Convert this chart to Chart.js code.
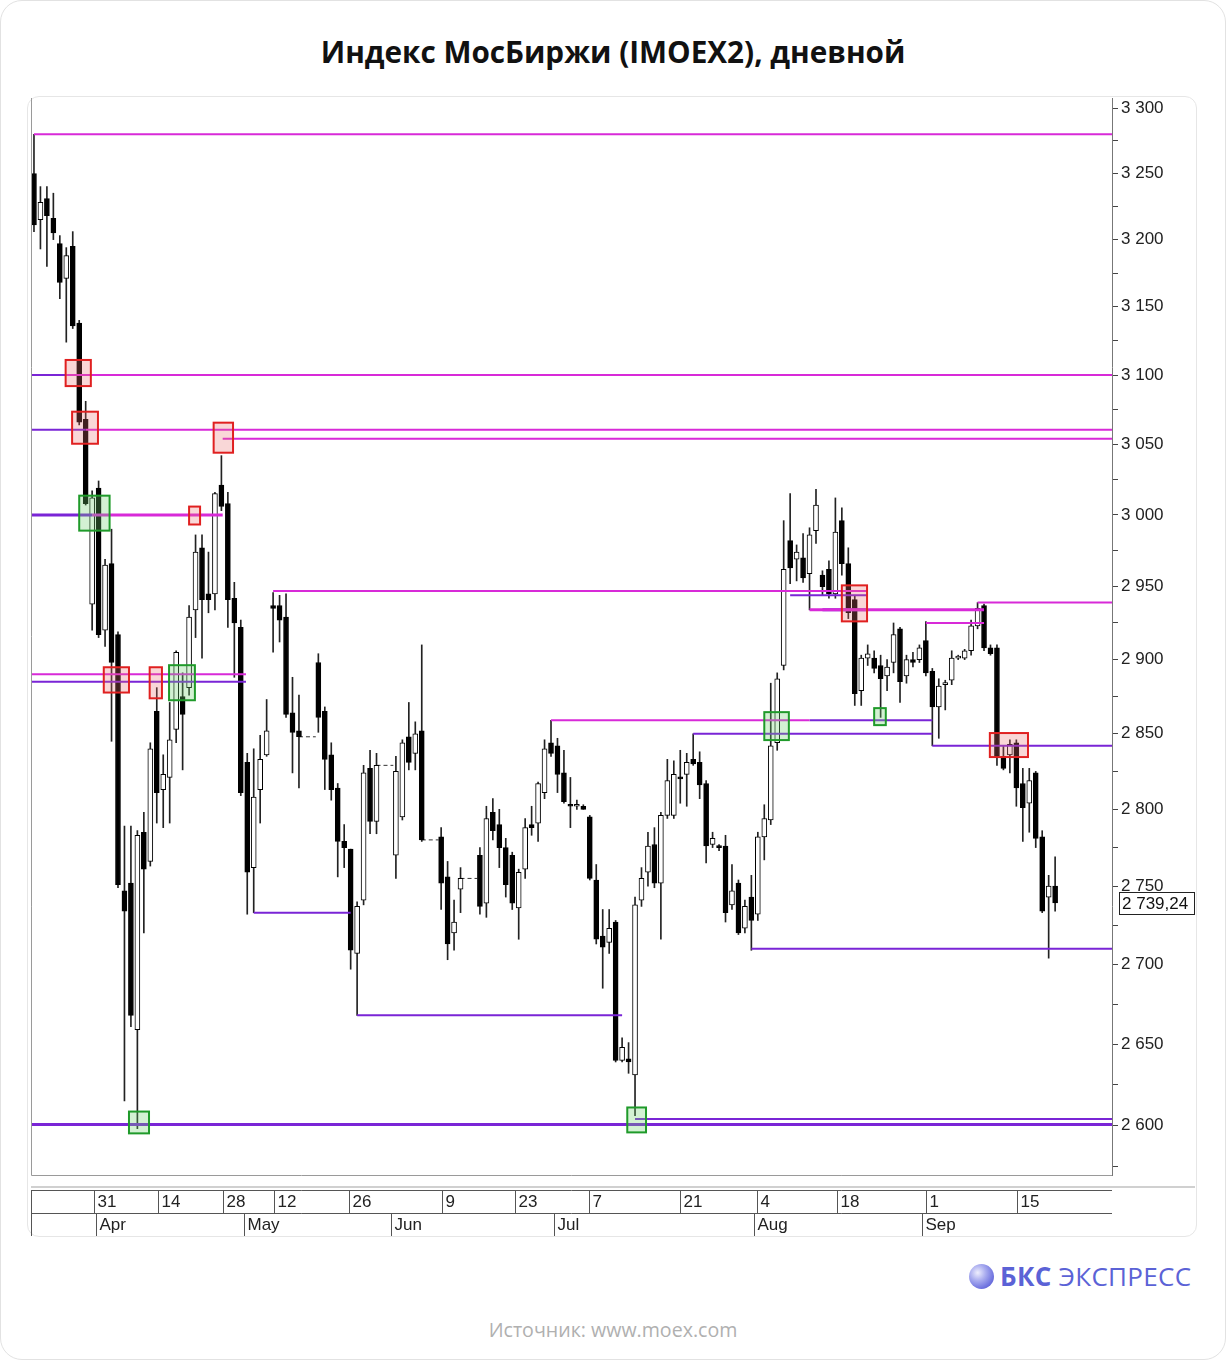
<!DOCTYPE html>
<html lang="ru">
<head>
<meta charset="utf-8">
<title>Индекс МосБиржи (IMOEX2), дневной</title>
<script src="https://cdn.jsdelivr.net/npm/chart.js@4.4.1/dist/chart.umd.min.js"></script>
<style>
  html, body { margin: 0; padding: 0; background: #fff; }
  #card {
    position: relative; width: 1224px; height: 1358px;
    border: 1px solid #e2e2e2; border-radius: 22px; overflow: hidden;
    font-family: "Open Sans", "Noto Sans", sans-serif;
  }
  h1 {
    position: absolute; left: 0; right: 0; top: 31px; margin: 0;
    text-align: center; font-size: 29.7px; line-height: 40px; font-weight: 700; color: #111;
  }
  #frame {
    position: absolute; left: 26px; top: 95px; width: 1168px; height: 1139px;
    border: 1px solid #e6e6e6; border-radius: 12px;
  }
  #chart { position: absolute; left: 27px; top: 96px; }
  #logo {
    position: absolute; left: 968px; top: 1261px; height: 28px;
    display: flex; align-items: center; color: #5b62d6; font-size: 26px; letter-spacing: 0.3px;
  }
  #logo .ball {
    width: 25px; height: 25px; border-radius: 50%; margin-right: 6px;
    background: radial-gradient(circle at 35% 35%, #eeeefd 0%, #a9acef 35%, #6e72df 70%, #4b4fc4 100%);
  }
  #logo b { font-weight: 700; margin-right: 7px; }
  #source {
    position: absolute; left: 0; right: 0; top: 1315px; text-align: center;
    font-size: 19.6px; color: #b0b0b0;
  }
</style>
</head>
<body>
<div id="card">
  <h1>Индекс МосБиржи (IMOEX2), дневной</h1>
  <div id="frame"></div>
  <canvas id="chart" width="1168" height="1140"></canvas>
  <div id="logo"><span class="ball"></span><b>БКС</b>ЭКСПРЕСС</div>
  <div id="source">Источник: www.moex.com</div>
</div>
<script>
// дневные свечи, null = нет торгов (пунктир)
const opens = [
  3250, 3215, 3231, 3216, 3197, 3171, 3195, 3138, 3068, 2938,
  3019, 2920, 2966, 2917, 2747, 2752, 2659, 2785, 2766, 2865,
  2813, 2821, 2853, 2875, 2881, 2934, 2977, 2945, 2945, 3021,
  3008, 2942, 2922, 2831, 2762, 2813, 2836, 2937, 2937, 2929,
  2864, 2852, null, null,
  2898, 2865, 2836, 2814, 2779, 2774, 2707, 2741, 2827, 2792, null, null,
  2770, 2795, 2848, 2837, 2852, null, null,
  2782, 2756, 2720, 2748, null, null,
  2770, 2739, 2798, 2790, 2775, 2770, 2736, 2761, 2790,
  2791, 2811, 2844, 2842, 2824, 2803, 2802, 2802, 2795, 2754,
  2718, 2714, 2727, 2640, 2641, 2631, 2741, 2759, 2777, 2752,
  2796, 2796, 2821, 2823, 2833, 2831, 2817, 2777, 2776, 2776,
  2738, 2752, 2723, 2743, 2732, 2782, 2793, 2844, 2896, 2982,
  2969, 2970, 2959, 2989, 2958, 2962, 2945, 2996, 2966, 2941,
  2879, 2901, 2901, 2896, 2889, 2898, 2921, 2889, 2900, 2900,
  2913, 2892, 2868, 2883, 2886, 2901, 2901, 2906, 2923, 2937,
  2908, 2908, 2835, 2836, 2844, 2817, 2804, 2824, 2782, 2743, 2750
];
const highs = [
  3280, 3240, 3240, 3235, 3203, 3194, 3206, 3140, 3081, 3017,
  3024, 2969, 2990, 2919, 2789, 2789, 2786, 2798, 2844, 2881,
  2836, 2871, 2906, 2891, 2937, 2986, 2986, 2974, 3016, 3042,
  3016, 2953, 2927, 2837, 2840, 2849, 2873, 2946, 2944, 2945,
  2888, 2876, null, null,
  2904, 2868, 2844, 2817, 2790, 2774, 2740, 2829, 2839, 2837, null, null,
  2835, 2846, 2871, 2858, 2910, null, null,
  2788, 2766, 2741, 2762, null, null,
  2775, 2802, 2807, 2800, 2781, 2772, 2761, 2794, 2802,
  2818, 2846, 2859, 2847, 2839, 2821, 2806, 2803, 2796, 2764,
  2735, 2735, 2728, 2654, 2651, 2743, 2762, 2785, 2788, 2798,
  2833, 2832, 2839, 2837, 2850, 2838, 2819, 2785, 2777, 2783,
  2764, 2754, 2741, 2757, 2785, 2803, 2884, 2891, 2996, 3015,
  2979, 2987, 2991, 3018, 2961, 2968, 3012, 3005, 2977, 2944,
  2903, 2910, 2906, 2903, 2900, 2925, 2922, 2903, 2905, 2910,
  2926, 2894, 2887, 2886, 2906, 2903, 2907, 2927, 2939, 2938,
  2910, 2910, 2842, 2846, 2846, 2827, 2827, 2825, 2786, 2757, 2769
];
const lows = [
  3206, 3193, 3180, 3200, 3156, 3124, 3134, 3064, 3007, 2920,
  2915, 2909, 2845, 2749, 2615, 2661, 2598, 2720, 2763, 2791,
  2788, 2791, 2844, 2826, 2876, 2915, 2901, 2932, 2934, 3003,
  2922, 2888, 2809, 2732, 2733, 2791, 2835, 2905, 2912, 2861,
  2824, 2814, null, null,
  2851, 2813, 2806, 2756, 2762, 2697, 2668, 2738, 2784, 2784, null, null,
  2755, 2793, 2826, 2826, 2779, null, null,
  2735, 2703, 2709, 2733, null, null,
  2732, 2730, 2780, 2762, 2743, 2735, 2716, 2755, 2783,
  2779, 2807, 2835, 2811, 2804, 2788, 2800, 2800, 2754, 2713,
  2685, 2707, 2639, 2639, 2632, 2606, 2737, 2750, 2749, 2716,
  2794, 2794, 2804, 2802, 2829, 2807, 2765, 2775, 2773, 2727,
  2735, 2719, 2720, 2709, 2728, 2767, 2790, 2839, 2893, 2952,
  2954, 2953, 2934, 2980, 2944, 2942, 2942, 2958, 2928, 2869,
  2869, 2896, 2891, 2861, 2879, 2891, 2871, 2884, 2895, 2898,
  2889, 2842, 2847, 2866, 2883, 2900, 2900, 2903, 2921, 2906,
  2903, 2829, 2826, 2824, 2802, 2779, 2785, 2775, 2733, 2704, 2734
];
const closes = [
  3211, 3228, 3218, 3205, 3168, 3188, 3136, 3066, 3008, 3012,
  2917, 2965, 2898, 2751, 2734, 2668, 2783, 2761, 2840, 2811,
  2823, 2846, 2905, 2863, 2929, 2974, 2941, 2941, 3015, 3006,
  2941, 2925, 2811, 2759, 2808, 2833, 2852, 2935, 2927, 2863,
  2851, 2848, null, null,
  2861, 2833, 2813, 2779, 2775, 2709, 2737, 2824, 2792, 2829, null, null,
  2825, 2844, 2831, 2850, 2780, null, null,
  2752, 2713, 2727, 2755, null, null,
  2737, 2794, 2786, 2775, 2751, 2739, 2759, 2788, 2788,
  2817, 2840, 2837, 2823, 2805, 2802, 2802, 2800, 2755, 2716,
  2711, 2723, 2640, 2648, 2639, 2738, 2755, 2776, 2752, 2796,
  2819, 2823, 2820, 2831, 2830, 2816, 2776, 2781, 2775, 2733,
  2747, 2720, 2737, 2728, 2782, 2794, 2842, 2887, 2962, 2963,
  2974, 2956, 2986, 3007, 2950, 2945, 2988, 2966, 2932, 2877,
  2901, 2904, 2894, 2887, 2895, 2917, 2885, 2900, 2898, 2908,
  2891, 2868, 2882, 2883, 2901, 2901, 2906, 2923, 2935, 2908,
  2904, 2835, 2827, 2843, 2814, 2801, 2819, 2781, 2734, 2750, 2739.24
];

// подписи оси времени (позиция = номер свечи)
const dayTickPos = [9.3, 19.2, 29.2, 37.2, 48.7, 63.2, 74.5, 85.9, 100.0, 111.9, 124.3, 138.0, 152.1];
const dayTickLabels = ['31', '14', '28', '12', '26', '9', '23', '7', '21', '4', '18', '1', '15'];
const monthPos = [9.6, 32.5, 55.2, 80.4, 111.4, 137.4];
const monthLabels = ['Apr', 'May', 'Jun', 'Jul', 'Aug', 'Sep'];

// шкала цены
const yTicks = [];
for (let v = 2575; v <= 3300; v += 25) yTicks.push(v);

const X_MIN = -0.46, X_MAX = 166.8;

// уровни поддержки/сопротивления: значение, от, до, цвет, толщина
const lvlValue = [3280, 3100, 3100, 3060.5, 3060.5, 3054, 3000, 3000, 2947, 2944, 2934, 2934, 2939, 2925,
                  2890, 2885, 2859, 2859, 2850, 2842, 2733, 2710, 2668, 2604, 2600.6];
const lvlFrom  = [0, X_MIN, 5, X_MIN, 8, 29.2, X_MIN, 9, 37, 117, 120, 122, 146, 138,
                  X_MIN, X_MIN, 80, 120, 102, 139, 34, 111, 50, 93, X_MIN];
const lvlTo    = [X_MAX, 5, X_MAX, 8, X_MAX, X_MAX, 9, 29.2, 129, 129, 147, 129, X_MAX, 147,
                  32.8, 32.8, 120, 139, 139, X_MAX, 49, X_MAX, 91, X_MAX, X_MAX];
const lvlKind  = ['m', 'p', 'm', 'p', 'm', 'm', 'p', 'm', 'm', 'p', 'm', 'p', 'm', 'm',
                  'm', 'p', 'm', 'p', 'p', 'p', 'p', 'p', 'p', 'p', 'p'];
const lvlThick = [2, 2, 2, 2, 2, 2, 3, 3, 2, 2, 3, 3, 2, 2,
                  2, 2, 2, 2, 2, 2, 2, 2, 2, 2, 3];

// отмеченные зоны: x от/до (номер свечи), цена верх/низ, тип
const boxX0  = [4.9, 5.9, 27.8, 10.8, 17.9, 24.0, 125.0, 147.9, 7.0, 20.9, 14.7, 91.8, 113.0, 130.0];
const boxX1  = [8.8, 9.9, 30.8, 14.7, 19.8, 25.7, 128.9, 153.8, 11.7, 24.9, 17.8, 94.7, 116.8, 131.8];
const boxHi  = [3111, 3073.5, 3065.6, 2894.8, 2894.8, 3005.9, 2950.9, 2850.5, 3013.6, 2896.2, 2608.5, 2611, 2864.5, 2867.2];
const boxLo  = [3092, 3050.5, 3044.1, 2877.7, 2873.8, 2993.3, 2926.1, 2834.5, 2989, 2872.5, 2595.2, 2595.8, 2845.8, 2855.8];
const boxKind = ['r', 'r', 'r', 'r', 'r', 'r', 'r', 'r', 'g', 'g', 'g', 'g', 'g', 'g'];

const MAGENTA = '#d82ad8';
const PURPLE = '#7a25d6';
const AXIS_FONT = "17px 'Liberation Sans', Arial, sans-serif";

function fmt(v) {
  return String(v).replace(/\B(?=(\d{3})+(?!\d))/g, ' ');
}

const wicks = [];
const bodies = [];
opens.forEach((o, i) => {
  if (o === null) return;
  wicks.push({ x: i, y: [lows[i], highs[i]] });
  bodies.push({ x: i, y: [Math.min(o, closes[i]), Math.max(o, closes[i])], up: closes[i] >= o });
});

const datasets = [];

lvlValue.forEach((v, i) => {
  datasets.push({
    type: 'line',
    data: [{ x: lvlFrom[i], y: v }, { x: lvlTo[i], y: v }],
    borderColor: lvlKind[i] === 'm' ? MAGENTA : PURPLE,
    borderWidth: lvlThick[i],
    pointRadius: 0,
    order: 1
  });
});

// пунктир через дни без торгов
for (let i = 1; i < opens.length; i++) {
  if (opens[i] === null && opens[i - 1] !== null) {
    let j = i;
    while (opens[j] === null) j++;
    datasets.push({
      type: 'line',
      data: [{ x: i - 1, y: closes[i - 1] }, { x: j - 0.4, y: closes[i - 1] }],
      borderColor: '#333',
      borderWidth: 1,
      borderDash: [4, 3],
      pointRadius: 0,
      order: 4
    });
  }
}

datasets.push({
  type: 'bar',
  data: wicks,
  backgroundColor: '#222',
  borderWidth: 0,
  barThickness: 1,
  grouped: false,
  order: 3
});
datasets.push({
  type: 'bar',
  data: bodies,
  backgroundColor: (c) => (c.raw && c.raw.up) ? '#ffffff' : '#000000',
  borderColor: '#000',
  borderWidth: 1,
  borderSkipped: false,
  barThickness: 5,
  minBarLength: 2,
  grouped: false,
  order: 2
});

const decorPlugin = {
  id: 'decor',
  afterDatasetsDraw(chart) {
    const c = chart.ctx;
    const xs = chart.scales.x, ys = chart.scales.y;
    c.save();
    // зоны
    boxX0.forEach((x0, i) => {
      const l = xs.getPixelForValue(x0), r = xs.getPixelForValue(boxX1[i]);
      const t = ys.getPixelForValue(boxHi[i]), b = ys.getPixelForValue(boxLo[i]);
      c.fillStyle = boxKind[i] === 'r' ? 'rgba(235,110,110,0.28)' : 'rgba(110,210,110,0.30)';
      c.fillRect(l, t, r - l, b - t);
      c.lineWidth = 2;
      c.strokeStyle = boxKind[i] === 'r' ? '#e02020' : '#1f9a2a';
      c.strokeRect(l, t, r - l, b - t);
    });
    c.restore();
  },
  afterDraw(chart) {
    const c = chart.ctx;
    const xs = chart.scales.x, ys = chart.scales.y;
    const a = chart.chartArea;
    c.save();
    // рамка графика
    c.strokeStyle = '#9a9a9a';
    c.lineWidth = 1;
    c.beginPath();
    c.moveTo(a.left + 0.5, a.top);
    c.lineTo(a.left + 0.5, a.bottom + 0.5);
    c.lineTo(a.right, a.bottom + 0.5);
    c.stroke();

    // ось дат
    const r1 = a.bottom + 15, r2 = a.bottom + 38, r3 = a.bottom + 61;
    c.strokeStyle = '#d0d0d0';
    c.lineWidth = 2;
    c.beginPath();
    c.moveTo(a.left, r1 - 3);
    c.lineTo(chart.width - 1, r1 - 3);
    c.stroke();
    c.strokeStyle = '#555';
    c.lineWidth = 1;
    c.beginPath();
    c.moveTo(a.left, r1 + 0.5); c.lineTo(a.right, r1 + 0.5);
    c.moveTo(a.left, r2 + 0.5); c.lineTo(a.right, r2 + 0.5);
    c.moveTo(a.left + 0.5, r1); c.lineTo(a.left + 0.5, r3);
    c.stroke();
    c.font = AXIS_FONT;
    c.fillStyle = '#222';
    c.textBaseline = 'middle';
    c.textAlign = 'left';
    dayTickPos.forEach((p, i) => {
      const x = Math.round(xs.getPixelForValue(p)) + 0.5;
      c.beginPath(); c.moveTo(x, r1); c.lineTo(x, r2); c.stroke();
      c.fillText(dayTickLabels[i], x + 3, (r1 + r2) / 2 + 1);
    });
    monthPos.forEach((p, i) => {
      const x = Math.round(xs.getPixelForValue(p)) + 0.5;
      c.beginPath(); c.moveTo(x, r2); c.lineTo(x, r3); c.stroke();
      c.fillText(monthLabels[i], x + 3, (r2 + r3) / 2 + 1);
    });

    // последняя цена
    const last = closes[closes.length - 1];
    const y = Math.round(ys.getPixelForValue(last));
    const bx = a.right + 7;
    c.fillStyle = '#fff';
    c.fillRect(bx, y - 11, 75, 22);
    c.strokeStyle = '#222';
    c.strokeRect(bx + 0.5, y - 10.5, 75, 22);
    c.fillStyle = '#111';
    c.fillText(fmt(Math.floor(last)) + ',' + String(Math.round((last % 1) * 100)).padStart(2, '0'), bx + 3, y + 1);
    c.restore();
  }
};

new Chart(document.getElementById('chart').getContext('2d'), {
  type: 'bar',
  data: { datasets: datasets },
  options: {
    responsive: false,
    animation: false,
    devicePixelRatio: 1,
    layout: { padding: { left: 3, right: 0, top: 1, bottom: 62 } },
    plugins: { legend: { display: false }, tooltip: { enabled: false } },
    scales: {
      x: { type: 'linear', min: X_MIN, max: X_MAX, display: false, offset: false },
      y: {
        type: 'logarithmic',
        position: 'right',
        min: 2570,
        max: 3308,
        afterBuildTicks: (s) => { s.ticks = yTicks.map(v => ({ value: v })); },
        afterFit: (s) => { s.width = 84; s.paddingTop = 0; s.paddingBottom = 0; },
        ticks: {
          autoSkip: false,
          padding: 3,
          color: '#222',
          font: { family: "'Liberation Sans', Arial, sans-serif", size: 17 },
          callback: (v) => (v % 50 === 0 ? fmt(v) : '')
        },
        grid: { drawOnChartArea: false, drawTicks: true, tickLength: 6, color: '#444' },
        border: { display: true, color: '#777' }
      }
    }
  },
  plugins: [decorPlugin]
});
</script>
</body>
</html>
